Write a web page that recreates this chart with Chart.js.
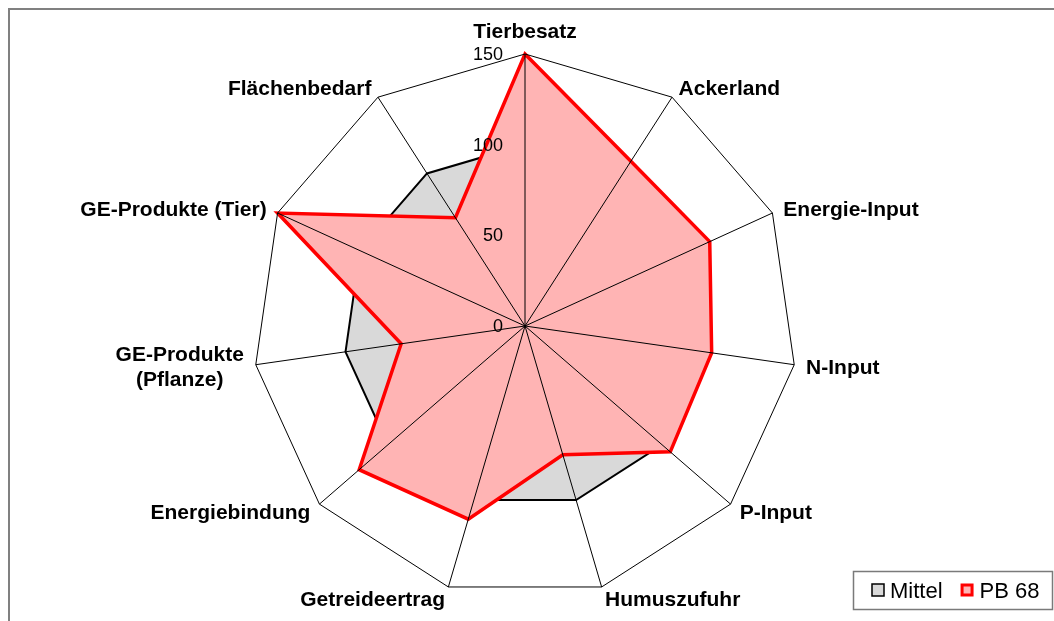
<!DOCTYPE html>
<html>
<head>
<meta charset="utf-8">
<script src="https://cdn.jsdelivr.net/npm/chart.js@4.4.1/dist/chart.umd.min.js"></script>
<style>
  html, body { margin: 0; padding: 0; background: #ffffff; }
  canvas { display: block; }
</style>
</head>
<body>
<canvas id="c" width="1054" height="621"></canvas>
<script>
// ---- data ----
const categories = [
  'Tierbesatz', 'Ackerland', 'Energie-Input', 'N-Input', 'P-Input',
  'Humuszufuhr', 'Getreideertrag', 'Energiebindung',
  ['GE-Produkte', '(Pflanze)'], 'GE-Produkte (Tier)', 'Flächenbedarf'
];
const seriesNames = ['Mittel', 'PB 68'];
const mittelValues = [100, 100, 100, 100, 100, 100, 100, 100, 100, 100, 100];
const pb68Values   = [150, 108, 112, 104, 106, 74, 111, 121, 69, 150, 71];
const tickValues = [0, 50, 100, 150];
const tickLabels = ['0', '50', '100', '150'];

const FONT = '"Liberation Sans", Arial, Helvetica, sans-serif';
const MITTEL_FILL = '#d9d9d9';
const PB_FILL = '#ffb4b4';
const PB_LINE = '#ff0000';

const decorPlugin = {
  id: 'decor',
  beforeDraw(chart) {
    const ctx = chart.ctx;
    ctx.save();
    ctx.fillStyle = '#ffffff';
    ctx.fillRect(0, 0, chart.width, chart.height);
    // outer chart frame (top and left visible)
    ctx.strokeStyle = '#808080';
    ctx.lineWidth = 2;
    ctx.beginPath();
    ctx.moveTo(9, chart.height + 5);
    ctx.lineTo(9, 9);
    ctx.lineTo(chart.width + 5, 9);
    ctx.stroke();
    ctx.restore();
  },
  afterDraw(chart) {
    const ctx = chart.ctx;
    const s = chart.scales.r;
    ctx.save();

    // tick labels, right-aligned left of the vertical axis
    ctx.fillStyle = '#000000';
    ctx.font = '18px ' + FONT;
    ctx.textAlign = 'right';
    ctx.textBaseline = 'middle';
    s.ticks.forEach((t, i) => {
      const d = s.getDistanceFromCenterForValue(t.value);
      const lab = tickLabels[tickValues.indexOf(t.value)] ?? String(t.value);
      ctx.fillText(lab, s.xCenter - 22, s.yCenter - d + 1);
    });

    // point labels
    const fs = 21, lh = 25;
    ctx.font = 'bold ' + fs + 'px ' + FONT;
    ctx.textBaseline = 'alphabetic';
    const labels = chart.data.labels;
    labels.forEach((label, i) => {
      const ang = s.getIndexAngle(i);
      const sn = Math.sin(ang), cs = Math.cos(ang);
      const p = s.getPointPosition(i, s.drawingArea);
      const lines = Array.isArray(label) ? label : [label];
      if (Math.abs(sn) < 0.01) {
        ctx.textAlign = 'center';
        const base = cs > 0 ? p.y - 16 : p.y + 16 + fs * 0.716;
        lines.forEach((ln, k) => ctx.fillText(ln, p.x, base + k * lh));
        return;
      }
      const x = p.x + 12 * sn;
      const capC = p.y - 11.5 * cs;
      const n = lines.length;
      const widths = lines.map(l => ctx.measureText(l).width);
      const bw = Math.max(...widths);
      const cx = sn > 0 ? x + bw / 2 : x - bw / 2;
      ctx.textAlign = 'center';
      lines.forEach((ln, k) => {
        const cc = capC - (n - 1) * lh / 2 + k * lh;
        ctx.fillText(ln, cx, cc + fs * 0.358);
      });
    });

    // legend box (bottom right)
    const bx = chart.width - 201, by = chart.height - 50, bwid = 199, bh = 38;
    ctx.strokeStyle = '#7a7a7a';
    ctx.lineWidth = 1.5;
    ctx.strokeRect(bx + 0.5, by + 0.5, bwid, bh);
    ctx.font = '22px ' + FONT;
    ctx.textAlign = 'left';
    ctx.textBaseline = 'alphabetic';
    const ds = chart.data.datasets;
    const midY = by + bh / 2;
    let lx = bx + 19;
    // Mittel marker
    ctx.fillStyle = ds[0].backgroundColor;
    ctx.fillRect(lx, midY - 6, 12, 12);
    ctx.strokeStyle = '#000000';
    ctx.lineWidth = 1.5;
    ctx.strokeRect(lx, midY - 6, 12, 12);
    ctx.fillStyle = '#000000';
    lx += 18;
    ctx.fillText(ds[0].label, lx, midY + 8);
    lx += ctx.measureText(ds[0].label).width + 18;
    // PB 68 marker
    ctx.fillStyle = ds[1].backgroundColor;
    ctx.fillRect(lx + 1.5, midY - 5, 10, 10);
    ctx.strokeStyle = ds[1].borderColor;
    ctx.lineWidth = 3;
    ctx.strokeRect(lx + 1.5, midY - 5, 10, 10);
    ctx.fillStyle = '#000000';
    lx += 19;
    ctx.fillText(ds[1].label, lx, midY + 8);

    ctx.restore();
  }
};

new Chart(document.getElementById('c'), {
  type: 'radar',
  data: {
    labels: categories,
    datasets: [
      {
        label: seriesNames[0],
        data: mittelValues,
        backgroundColor: MITTEL_FILL,
        borderColor: '#000000',
        borderWidth: 2,
        fill: true,
        pointRadius: 0,
        pointHoverRadius: 0,
        order: 1
      },
      {
        label: seriesNames[1],
        data: pb68Values,
        backgroundColor: PB_FILL,
        borderColor: PB_LINE,
        borderWidth: 3.5,
        fill: true,
        pointRadius: 0,
        pointHoverRadius: 0,
        order: 0
      }
    ]
  },
  options: {
    responsive: false,
    animation: false,
    layout: { padding: { left: 253, right: 257, top: 54, bottom: 23 } },
    elements: { line: { tension: 0, borderJoinStyle: 'miter' } },
    plugins: {
      legend: { display: false },
      tooltip: { enabled: false }
    },
    scales: {
      r: {
        min: tickValues[0],
        max: tickValues[tickValues.length - 1],
        afterBuildTicks: (sc) => { sc.ticks = tickValues.map(v => ({ value: v })); },
        ticks: { display: false },
        pointLabels: { display: false },
        angleLines: { display: true, color: '#000000', lineWidth: 1 },
        grid: {
          z: 1,
          lineWidth: 1,
          color: (c) => (c.tick && c.tick.value === tickValues[tickValues.length - 1]) ? '#000000' : 'rgba(0,0,0,0)'
        }
      }
    }
  },
  plugins: [decorPlugin]
});
</script>
</body>
</html>
